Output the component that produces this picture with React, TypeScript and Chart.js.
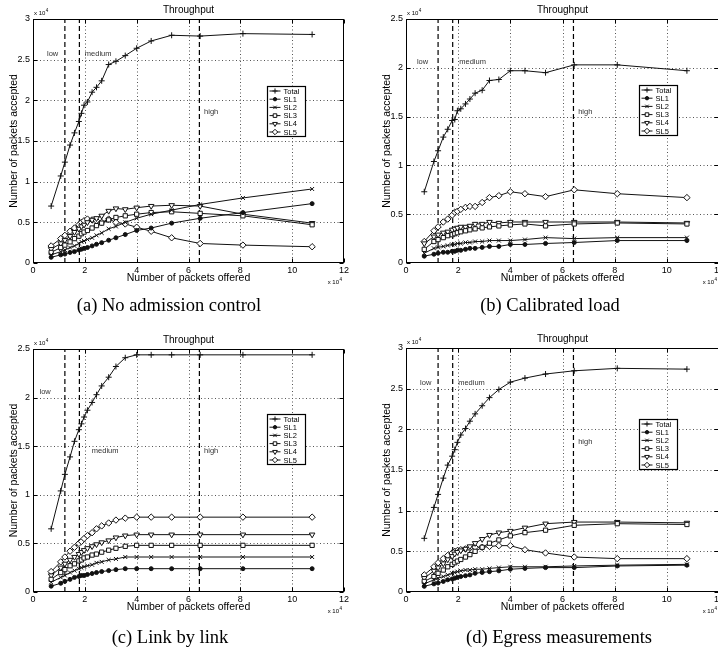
import React, { useEffect, useRef } from 'react';
import { Chart, registerables } from 'chart.js';
import { drawPoint } from 'chart.js/helpers';

Chart.register(...registerables);

// ---------- data (packets, in units of 10^4) ----------
const offered = [0.7, 1.07, 1.23, 1.43, 1.6, 1.77, 1.87, 1.97, 2.1, 2.28, 2.45, 2.65, 2.92, 3.2, 3.56, 4.0, 4.56, 5.35, 6.45, 8.1, 10.77];
const seriesNames = ['Total', 'SL1', 'SL2', 'SL3', 'SL4', 'SL5'];
const xTicks = [0, 2, 4, 6, 8, 10, 12];
const boundaryX = [1.23, 1.79, 6.42];
const regionNames = ['low', 'medium', 'high'];

// (a) No admission control
const aTotal = [0.70, 1.07, 1.24, 1.45, 1.60, 1.74, 1.84, 1.94, 1.98, 2.10, 2.16, 2.24, 2.44, 2.48, 2.55, 2.64, 2.73, 2.80, 2.79, 2.82, 2.81];
const aSL1 = [0.07, 0.10, 0.11, 0.13, 0.14, 0.16, 0.17, 0.18, 0.19, 0.21, 0.23, 0.25, 0.28, 0.31, 0.35, 0.40, 0.43, 0.49, 0.55, 0.62, 0.73];
const aSL2 = [0.10, 0.14, 0.16, 0.19, 0.21, 0.24, 0.26, 0.27, 0.29, 0.31, 0.34, 0.37, 0.42, 0.45, 0.50, 0.55, 0.60, 0.65, 0.72, 0.80, 0.91];
const aSL3 = [0.13, 0.19, 0.22, 0.26, 0.30, 0.33, 0.36, 0.38, 0.40, 0.43, 0.46, 0.49, 0.53, 0.56, 0.58, 0.60, 0.62, 0.63, 0.61, 0.58, 0.47];
const aSL4 = [0.17, 0.24, 0.28, 0.33, 0.38, 0.42, 0.45, 0.47, 0.50, 0.53, 0.55, 0.58, 0.64, 0.67, 0.66, 0.68, 0.70, 0.71, 0.70, 0.60, 0.49];
const aSL5 = [0.21, 0.30, 0.34, 0.39, 0.43, 0.47, 0.50, 0.52, 0.54, 0.53, 0.52, 0.50, 0.54, 0.50, 0.48, 0.44, 0.39, 0.31, 0.24, 0.22, 0.20];

// (b) Calibrated load
const bTotal = [0.73, 1.04, 1.15, 1.29, 1.37, 1.46, 1.47, 1.56, 1.58, 1.63, 1.68, 1.74, 1.77, 1.87, 1.88, 1.97, 1.97, 1.95, 2.03, 2.03, 1.97];
const bSL1 = [0.07, 0.09, 0.10, 0.11, 0.11, 0.12, 0.12, 0.13, 0.13, 0.14, 0.15, 0.15, 0.16, 0.17, 0.17, 0.19, 0.19, 0.20, 0.21, 0.23, 0.23];
const bSL2 = [0.10, 0.15, 0.16, 0.17, 0.18, 0.19, 0.19, 0.20, 0.20, 0.21, 0.21, 0.22, 0.22, 0.23, 0.23, 0.23, 0.24, 0.26, 0.25, 0.26, 0.26];
const bSL3 = [0.14, 0.22, 0.24, 0.26, 0.28, 0.29, 0.30, 0.31, 0.32, 0.33, 0.34, 0.35, 0.36, 0.37, 0.38, 0.39, 0.40, 0.38, 0.40, 0.41, 0.40];
const bSL4 = [0.20, 0.27, 0.29, 0.31, 0.32, 0.34, 0.35, 0.36, 0.37, 0.37, 0.38, 0.40, 0.40, 0.42, 0.41, 0.42, 0.42, 0.42, 0.42, 0.42, 0.41];
const bSL5 = [0.22, 0.33, 0.37, 0.42, 0.45, 0.49, 0.52, 0.53, 0.55, 0.57, 0.58, 0.58, 0.62, 0.67, 0.69, 0.73, 0.71, 0.68, 0.75, 0.71, 0.67];

// (c) Link by link
const cTotal = [0.65, 1.04, 1.21, 1.39, 1.55, 1.67, 1.73, 1.80, 1.87, 1.95, 2.03, 2.12, 2.21, 2.32, 2.41, 2.44, 2.44, 2.44, 2.44, 2.44, 2.44];
const cSL1 = [0.06, 0.09, 0.11, 0.13, 0.15, 0.16, 0.17, 0.17, 0.18, 0.19, 0.20, 0.21, 0.22, 0.23, 0.24, 0.24, 0.24, 0.24, 0.24, 0.24, 0.24];
const cSL2 = [0.10, 0.15, 0.17, 0.20, 0.22, 0.24, 0.25, 0.26, 0.27, 0.28, 0.30, 0.31, 0.33, 0.34, 0.36, 0.36, 0.36, 0.36, 0.36, 0.36, 0.36];
const cSL3 = [0.13, 0.20, 0.23, 0.27, 0.29, 0.32, 0.33, 0.35, 0.36, 0.38, 0.39, 0.41, 0.43, 0.45, 0.47, 0.48, 0.48, 0.48, 0.48, 0.48, 0.48];
const cSL4 = [0.17, 0.25, 0.29, 0.33, 0.36, 0.39, 0.41, 0.43, 0.45, 0.47, 0.49, 0.51, 0.53, 0.56, 0.58, 0.59, 0.59, 0.59, 0.59, 0.59, 0.59];
const cSL5 = [0.21, 0.31, 0.36, 0.42, 0.46, 0.50, 0.52, 0.55, 0.58, 0.61, 0.65, 0.68, 0.71, 0.74, 0.76, 0.77, 0.77, 0.77, 0.77, 0.77, 0.77];

// (d) Egress measurements
const dTotal = [0.66, 1.04, 1.20, 1.40, 1.56, 1.67, 1.75, 1.84, 1.93, 2.01, 2.10, 2.19, 2.29, 2.39, 2.49, 2.58, 2.63, 2.68, 2.72, 2.75, 2.74];
const dSL1 = [0.07, 0.10, 0.11, 0.13, 0.15, 0.16, 0.17, 0.18, 0.19, 0.20, 0.21, 0.23, 0.24, 0.25, 0.26, 0.28, 0.29, 0.30, 0.30, 0.32, 0.33];
const dSL2 = [0.10, 0.15, 0.17, 0.19, 0.21, 0.23, 0.24, 0.25, 0.26, 0.27, 0.27, 0.28, 0.28, 0.29, 0.30, 0.31, 0.31, 0.31, 0.32, 0.33, 0.34];
const dSL3 = [0.13, 0.19, 0.23, 0.27, 0.31, 0.34, 0.36, 0.38, 0.40, 0.43, 0.46, 0.50, 0.55, 0.60, 0.64, 0.69, 0.73, 0.76, 0.82, 0.84, 0.83];
const dSL4 = [0.17, 0.26, 0.30, 0.35, 0.40, 0.44, 0.47, 0.49, 0.51, 0.53, 0.56, 0.60, 0.65, 0.70, 0.73, 0.75, 0.79, 0.84, 0.86, 0.86, 0.85];
const dSL5 = [0.21, 0.31, 0.36, 0.41, 0.45, 0.48, 0.50, 0.51, 0.52, 0.53, 0.54, 0.55, 0.55, 0.56, 0.57, 0.57, 0.52, 0.48, 0.43, 0.41, 0.41];

// ---------- styles ----------
const LINE = '#111';
const SANS = '"Liberation Sans", Arial, sans-serif';
const markerStyles: any[] = [
  { pointStyle: 'cross', bg: LINE, rot: 0, r: 3 },
  { pointStyle: 'circle', bg: LINE, rot: 0, r: 2 },
  { pointStyle: 'crossRot', bg: LINE, rot: 0, r: 2.8 },
  { pointStyle: 'rect', bg: '#fff', rot: 0, r: 3 },
  { pointStyle: 'triangle', bg: '#fff', rot: 180, r: 3.2 },
  { pointStyle: 'rectRot', bg: '#fff', rot: 0, r: 3.2 },
];

type Panel = {
  caption: string;
  left: number; top: number; width: number; height: number;
  area: { l: number; t: number; r: number; b: number };
  yMax: number;
  series: number[][];
  regionPos: number[][];
  legendOffset: number[];
  captionCenter: number; captionTop: number;
};

const panels: Panel[] = [
  { caption: '(a) No admission control', left: 0, top: 0, width: 359, height: 300,
    area: { l: 33, t: 19, r: 344, b: 263 }, yMax: 3,
    series: [aTotal, aSL1, aSL2, aSL3, aSL4, aSL5],
    regionPos: [[0.54, 2.57], [2.0, 2.57], [6.6, 1.86]], legendOffset: [234, 67],
    captionCenter: 169, captionTop: 294 },
  { caption: '(b) Calibrated load', left: 359, top: 0, width: 372, height: 300,
    area: { l: 47, t: 19, r: 360, b: 263 }, yMax: 2.5,
    series: [bTotal, bSL1, bSL2, bSL3, bSL4, bSL5],
    regionPos: [[0.42, 2.06], [2.04, 2.06], [6.6, 1.55]], legendOffset: [233, 66],
    captionCenter: 550, captionTop: 294 },
  { caption: '(c) Link by link', left: 0, top: 325, width: 359, height: 300,
    area: { l: 33, t: 24, r: 344, b: 267 }, yMax: 2.5,
    series: [cTotal, cSL1, cSL2, cSL3, cSL4, cSL5],
    regionPos: [[0.25, 2.06], [2.27, 1.45], [6.6, 1.45]], legendOffset: [234, 65],
    captionCenter: 170, captionTop: 626 },
  { caption: '(d) Egress measurements', left: 359, top: 325, width: 372, height: 300,
    area: { l: 47, t: 23, r: 360, b: 267 }, yMax: 3,
    series: [dTotal, dSL1, dSL2, dSL3, dSL4, dSL5],
    regionPos: [[0.54, 2.57], [2.0, 2.57], [6.6, 1.85]], legendOffset: [233, 71],
    captionCenter: 559, captionTop: 626 },
];

function drawExp(ctx: CanvasRenderingContext2D, x: number, y: number, alignRight: boolean) {
  ctx.font = `6px ${SANS}`;
  ctx.fillStyle = '#000';
  ctx.textBaseline = 'alphabetic';
  const base = 'x 10';
  const wb = ctx.measureText(base).width;
  const ws = 4;
  const x0 = alignRight ? x - wb - ws : x;
  ctx.textAlign = 'left';
  ctx.fillText(base, x0, y);
  ctx.font = `4.5px ${SANS}`;
  ctx.fillText('4', x0 + wb + 0.5, y - 3.5);
}

function yTickValues(yMax: number) {
  const out: number[] = [];
  for (let i = 0; i * 0.5 <= yMax + 1e-9; i++) out.push(i * 0.5);
  return out;
}

function makeOverlay(p: Panel) {
  return {
    id: 'overlay',
    beforeDatasetsDraw(chart: any) {
      const { ctx, chartArea: ca, scales } = chart;
      const xs = scales.x, ys = scales.y;
      ctx.save();
      ctx.strokeStyle = '#555';
      ctx.lineWidth = 1;
      ctx.setLineDash([1, 2.5]);
      ctx.beginPath();
      xTicks.slice(1, -1).forEach((v) => {
        const px = Math.round(xs.getPixelForValue(v)) + 0.5;
        ctx.moveTo(px, ca.top); ctx.lineTo(px, ca.bottom);
      });
      yTickValues(p.yMax).slice(1, -1).forEach((v) => {
        const py = Math.round(ys.getPixelForValue(v)) + 0.5;
        ctx.moveTo(ca.left, py); ctx.lineTo(ca.right, py);
      });
      ctx.stroke();
      ctx.restore();
    },
    afterDraw(chart: any) {
      const { ctx, chartArea: ca, scales } = chart;
      const xs = scales.x, ys = scales.y;
      const L = Math.round(ca.left) + 0.5, R = Math.round(ca.right) - 0.5;
      const T = Math.round(ca.top) + 0.5, B = Math.round(ca.bottom) - 0.5;
      ctx.save();
      // frame + inward ticks
      ctx.strokeStyle = '#000';
      ctx.lineWidth = 1;
      ctx.setLineDash([]);
      ctx.strokeRect(L, T, R - L, B - T);
      ctx.beginPath();
      xTicks.forEach((v) => {
        const px = Math.round(xs.getPixelForValue(v)) + 0.5;
        ctx.moveTo(px, B); ctx.lineTo(px, B - 4);
        ctx.moveTo(px, T); ctx.lineTo(px, T + 4);
      });
      yTickValues(p.yMax).forEach((v) => {
        const py = Math.round(ys.getPixelForValue(v)) + 0.5;
        ctx.moveTo(L, py); ctx.lineTo(L + 4, py);
        ctx.moveTo(R, py); ctx.lineTo(R - 4, py);
      });
      ctx.stroke();

      // title
      const cx = (ca.left + ca.right) / 2;
      ctx.fillStyle = '#000';
      ctx.font = `10px ${SANS}`;
      ctx.textAlign = 'center';
      ctx.textBaseline = 'middle';
      ctx.fillText('Throughput', cx, ca.top - 9);
      // x axis title
      ctx.font = `10.5px ${SANS}`;
      ctx.fillText('Number of packets offered', cx, ca.bottom + 15.5);
      // y axis title
      ctx.save();
      ctx.translate(ca.left - 19, (ca.top + ca.bottom) / 2);
      ctx.rotate(-Math.PI / 2);
      ctx.fillText('Number of packets accepted', 0, 0);
      ctx.restore();
      // exponents
      drawExp(ctx, ca.left + 1, ca.top - 4, false);
      drawExp(ctx, ca.right - 1, ca.bottom + 21, true);

      // region labels
      ctx.font = `7.5px ${SANS}`;
      ctx.fillStyle = '#333';
      ctx.textAlign = 'left';
      ctx.textBaseline = 'middle';
      regionNames.forEach((name, i) => {
        const [vx, vy] = p.regionPos[i];
        ctx.fillText(name, xs.getPixelForValue(vx), ys.getPixelForValue(vy));
      });

      // legend
      const lx = Math.round(ca.left + p.legendOffset[0]) + 0.5;
      const ly = Math.round(ca.top + p.legendOffset[1]) + 0.5;
      const lw = 38, lh = 50;
      ctx.fillStyle = '#fff';
      ctx.fillRect(lx, ly, lw, lh);
      ctx.strokeStyle = '#000';
      ctx.lineWidth = 1.2;
      ctx.strokeRect(lx, ly, lw, lh);
      ctx.lineWidth = 1;
      seriesNames.forEach((name, i) => {
        const ry = ly + 4.5 + i * 8.2;
        ctx.strokeStyle = LINE;
        ctx.beginPath();
        ctx.moveTo(lx + 2, ry); ctx.lineTo(lx + 13, ry);
        ctx.stroke();
        const ms = markerStyles[i];
        ctx.fillStyle = ms.bg;
        drawPoint(ctx, { pointStyle: ms.pointStyle, rotation: ms.rot, radius: ms.r * 0.85, borderWidth: 1 } as any, lx + 7.5, ry);
        ctx.fillStyle = '#000';
        ctx.font = `7.5px ${SANS}`;
        ctx.textAlign = 'left';
        ctx.textBaseline = 'middle';
        ctx.fillText(name, lx + 16, ry + 0.5);
      });
      ctx.restore();
    },
  };
}

function PanelChart({ p }: { p: Panel }) {
  const ref = useRef<HTMLCanvasElement>(null);
  useEffect(() => {
    if (!ref.current) return;
    const datasets: any[] = [];
    boundaryX.forEach((bx) => {
      datasets.push({
        label: 'boundary',
        data: [{ x: bx, y: 0 }, { x: bx, y: p.yMax }],
        borderColor: '#000', borderWidth: 1.2, borderDash: [5, 3],
        pointRadius: 0, fill: false, order: 10,
      });
    });
    p.series.forEach((vals, i) => {
      const ms = markerStyles[i];
      datasets.push({
        label: seriesNames[i],
        data: offered.map((x, j) => ({ x, y: vals[j] })),
        borderColor: LINE, borderWidth: 1,
        pointStyle: ms.pointStyle, pointRotation: ms.rot, pointRadius: ms.r,
        pointBackgroundColor: ms.bg, pointBorderColor: LINE, pointBorderWidth: 1,
        fill: false, tension: 0, order: 1,
      });
    });
    const chart = new Chart(ref.current, {
      type: 'line',
      data: { datasets },
      options: {
        responsive: false,
        animation: false,
        devicePixelRatio: 1,
        layout: { padding: { top: p.area.t, left: 0, right: p.width - p.area.r, bottom: 0 } },
        plugins: { legend: { display: false }, tooltip: { enabled: false }, title: { display: false } },
        scales: {
          x: {
            type: 'linear', min: 0, max: 12,
            afterFit: (s: any) => { s.height = p.height - p.area.b; },
            afterBuildTicks: (s: any) => { s.ticks = xTicks.map((v) => ({ value: v })); },
            ticks: { font: { family: SANS, size: 9 }, color: '#000', padding: 2, maxRotation: 0,
              callback: (v: any) => String(Number(v)) },
            grid: { display: false, drawTicks: false },
            border: { display: false },
          },
          y: {
            type: 'linear', min: 0, max: p.yMax,
            afterFit: (s: any) => { s.width = p.area.l; },
            afterBuildTicks: (s: any) => { s.ticks = yTickValues(p.yMax).map((v) => ({ value: v })); },
            ticks: { font: { family: SANS, size: 9 }, color: '#000', padding: 3,
              callback: (v: any) => String(Number(v)) },
            grid: { display: false, drawTicks: false },
            border: { display: false },
          },
        },
      } as any,
      plugins: [makeOverlay(p)],
    });
    return () => chart.destroy();
  }, [p]);
  return (
    <canvas ref={ref} width={p.width} height={p.height}
      style={{ position: 'absolute', left: p.left, top: p.top, width: p.width, height: p.height }} />
  );
}

export default function App() {
  return (
    <div style={{ position: 'absolute', left: 0, top: 0, width: 718, height: 657, overflow: 'hidden', background: '#fff' }}>
      {panels.map((p, i) => (
        <React.Fragment key={i}>
          <PanelChart p={p} />
          <div style={{
            position: 'absolute', left: p.captionCenter - 150, top: p.captionTop, width: 300,
            textAlign: 'center', fontFamily: '"Liberation Serif", "Times New Roman", serif',
            fontSize: 18.5, lineHeight: '22px', color: '#000', whiteSpace: 'nowrap',
          }}>{p.caption}</div>
        </React.Fragment>
      ))}
    </div>
  );
}
